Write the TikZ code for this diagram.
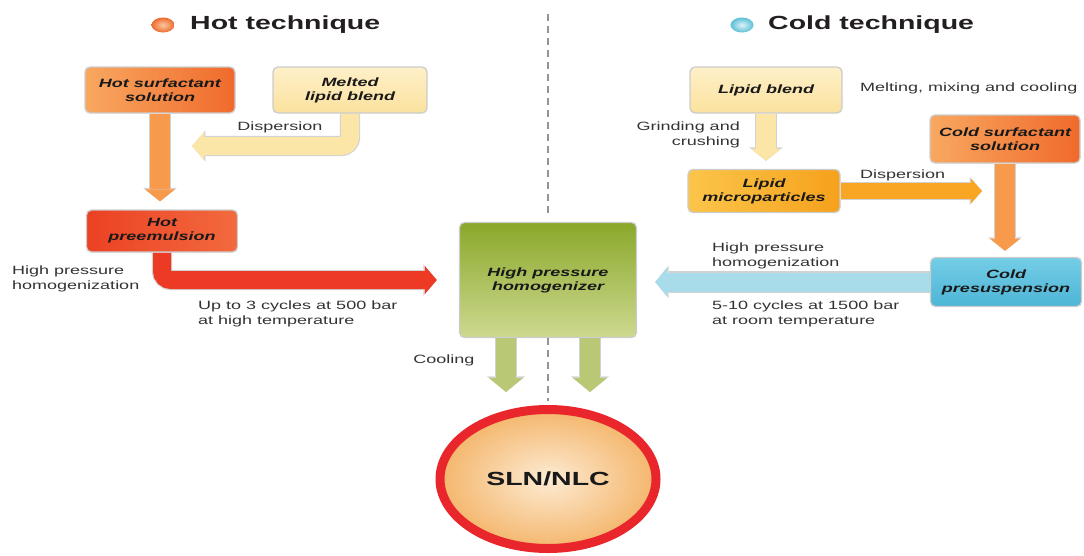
\documentclass[tikz,border=0pt]{standalone}
\usepackage{fontspec}
\setmainfont{Liberation Sans}[FakeStretch=1.5]
\usetikzlibrary{arrows.meta,shapes.geometric,calc}
\pgfdeclarelayer{bg}
\pgfsetlayers{bg,main}
\definecolor{hsL}{HTML}{F8A860}
\definecolor{hsR}{HTML}{F06A2C}
\definecolor{meltT}{HTML}{FEF0C8}
\definecolor{meltB}{HTML}{FBE19E}
\definecolor{preL}{HTML}{EC4124}
\definecolor{preR}{HTML}{F26A3E}
\definecolor{homT}{HTML}{8AA82A}
\definecolor{homB}{HTML}{CDD990}
\definecolor{microL}{HTML}{FBC54A}
\definecolor{microR}{HTML}{F6A11C}
\definecolor{presT}{HTML}{74CDE6}
\definecolor{presB}{HTML}{4DB5D6}
\definecolor{yelarr}{HTML}{FBE6A8}
\definecolor{orarr}{HTML}{F79A4C}
\definecolor{redarr}{HTML}{EC3A25}
\definecolor{bluearr}{HTML}{A8DCEB}
\definecolor{disparr}{HTML}{F8A623}
\definecolor{greenarr}{HTML}{B8C874}
\definecolor{arrline}{HTML}{D2D2D2}
\definecolor{slnR}{HTML}{E8262C}
\definecolor{slnIn}{HTML}{FDEBD3}
\definecolor{slnOut}{HTML}{F4B66C}
\definecolor{txt}{HTML}{333333}
\definecolor{titlec}{HTML}{231F20}
\definecolor{hotdotIn}{HTML}{FBC9A0}
\definecolor{hotdotOut}{HTML}{EE6A2E}
\definecolor{colddotIn}{HTML}{DDF3F8}
\definecolor{colddotOut}{HTML}{5CBFD6}
\begin{document}
\begin{tikzpicture}[x=1pt,y=-1pt,
  box/.style={draw=black!20, line width=1.3pt, rounded corners=5pt, align=center,
    inner sep=0pt, text=black!90, font=\fontsize{12}{14}\selectfont\bfseries\itshape},
  lbl/.style={align=left, inner sep=0pt, text=txt, font=\fontsize{12}{15}\selectfont},
  title/.style={inner sep=0pt, anchor=west, text=titlec, font=\fontsize{19}{22}\selectfont\bfseries},
  dotnode/.style={ellipse, minimum width=23pt, minimum height=15pt, inner sep=0pt},
  flow/.style n args={4}{draw=#1, line width=#2,
    -{Triangle[width=#3,length=#4,line width=0pt]},
    preaction={draw=arrline, line width=#2+2.4pt,
      -{Triangle[width=#3,length=#4,line width=0pt,scale=1.12]}}},
  dashline/.style={draw=black!42, line width=1.6pt, dash pattern=on 7pt off 5pt},
]
\useasboundingbox (0,0) rectangle (1084,555);

% titles
\node[dotnode, shading=radial, inner color=hotdotIn, outer color=hotdotOut] (hotd) at (163,25) {};
\node[title] (hott) at (190,25) {Hot technique};
\node[dotnode, shading=radial, inner color=colddotIn, outer color=colddotOut] (coldd) at (742,25) {};
\node[title] (coldt) at (768,25) {Cold technique};

% boxes
\node[box, minimum width=150pt, minimum height=46pt, left color=hsL, right color=hsR] (hotsurf) at (160,90) {Hot surfactant\\solution};
\node[box, minimum width=154pt, minimum height=46pt, top color=meltT, bottom color=meltB] (melt) at (350,90) {Melted\\lipid blend};
\node[box, minimum width=151pt, minimum height=42pt, left color=preL, right color=preR] (preemul) at (162,231) {Hot\\preemulsion};
\node[box, minimum width=177pt, minimum height=115pt, top color=homT, bottom color=homB] (homog) at (548,280) {High pressure\\homogenizer};
\node[box, minimum width=152pt, minimum height=46pt, top color=meltT, bottom color=meltB] (lipid) at (766,90) {Lipid blend};
\node[box, minimum width=152pt, minimum height=43pt, left color=microL, right color=microR] (micro) at (764,191) {Lipid\\microparticles};
\node[box, minimum width=150pt, minimum height=48pt, left color=hsL, right color=hsR] (coldsurf) at (1005,139) {Cold surfactant\\solution};
\node[box, minimum width=151pt, minimum height=49pt, top color=presT, bottom color=presB] (presus) at (1006,282) {Cold\\presuspension};

% result
\node[ellipse, draw=slnR, line width=9pt, minimum width=216pt, minimum height=139pt,
  inner color=slnIn, outer color=slnOut, text=black!90,
  font=\fontsize{19}{22}\selectfont\bfseries] (sln) at (548,479) {SLN/NLC};

% labels
\node[lbl] (disp1) at (280,127) {Dispersion};
\node[lbl, anchor=west] (hp1) at (12,279) {High pressure\\homogenization};
\node[lbl, anchor=west] (cyc1) at (198,314) {Up to 3 cycles at 500 bar\\at high temperature};
\node[lbl] (cool) at (444,360) {Cooling};
\node[lbl, anchor=west] (melting) at (860,88) {Melting, mixing and cooling};
\node[lbl, anchor=east, align=right] (grind) at (740,135) {Grinding and\\crushing};
\node[lbl, anchor=west] (disp2) at (860,175) {Dispersion};
\node[lbl, anchor=west] (hp2) at (712,256) {High pressure\\homogenization};
\node[lbl, anchor=west] (cyc2) at (712,314) {5-10 cycles at 1500 bar\\at room temperature};

% free ends
\coordinate (d1end) at (192,146);
\coordinate (d2end) at (982,191);
\coordinate (g1) at (506,392);
\coordinate (g2) at (590,392);
\coordinate (dtop) at (548,14);

% dashed separator
\draw[dashline, shorten >=6pt] (dtop) -- (homog.north);
\draw[dashline, shorten >=4pt] (homog.south) -- (sln.north);

% connectors
\begin{pgfonlayer}{bg}
\draw[flow={yelarr}{18pt}{28pt}{12pt}, rounded corners=9pt] (melt.south) |- (d1end);
\draw[flow={orarr}{20pt}{30pt}{12pt}, shorten >=8pt] (hotsurf.south) -- (hotsurf.south |- preemul.north);
\draw[flow={redarr}{18pt}{28pt}{12pt}, rounded corners=9pt, shorten >=22pt] (preemul.south) |- (homog.west);
\draw[flow={yelarr}{20pt}{30pt}{12pt}, shorten >=8pt] (lipid.south) -- (lipid.south |- micro.north);
\draw[flow={disparr}{16pt}{25pt}{11pt}] (micro.east) -- (d2end);
\draw[flow={orarr}{20pt}{30pt}{12pt}, shorten >=6pt] (coldsurf.south) -- (coldsurf.south |- presus.north);
\draw[flow={bluearr}{19pt}{29pt}{12pt}, shorten >=18pt] (presus.west) -- (presus.west -| homog.east);
\draw[flow={greenarr}{20pt}{34pt}{14pt}] (homog.south -| g1) -- (g1);
\draw[flow={greenarr}{20pt}{34pt}{14pt}] (homog.south -| g2) -- (g2);
\end{pgfonlayer}
\end{tikzpicture}
\end{document}
